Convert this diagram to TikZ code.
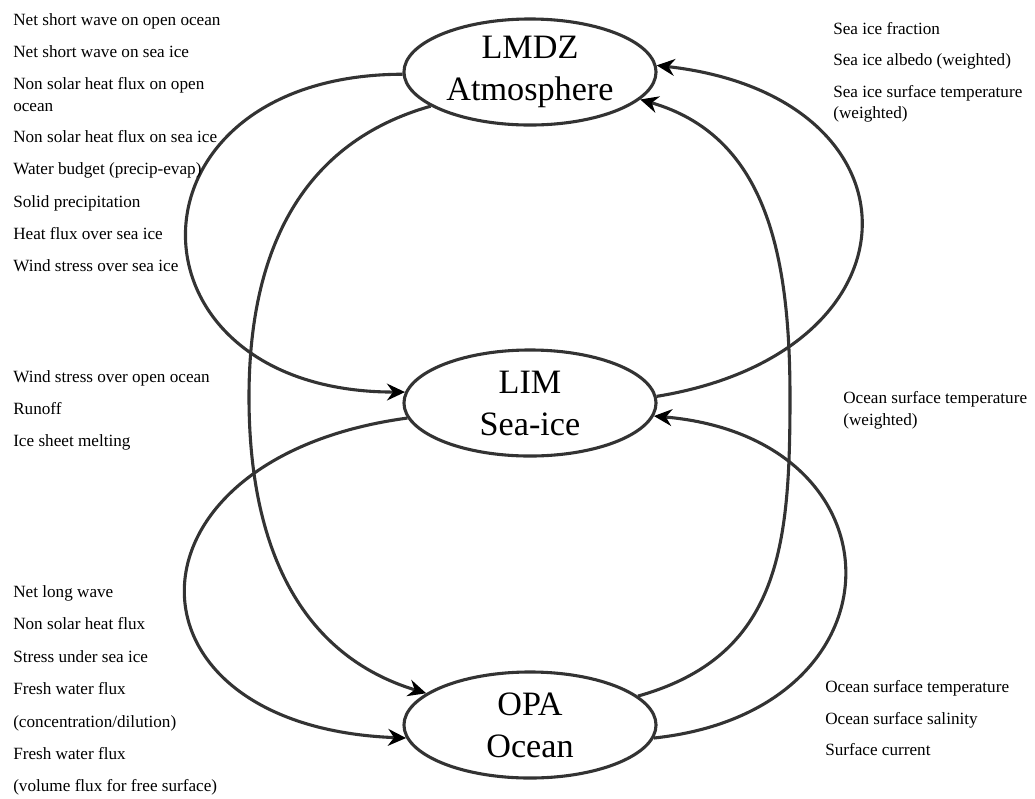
\documentclass[tikz,border=0pt]{standalone}
\usepackage{fontspec}
\setmainfont{Liberation Serif}
\usetikzlibrary{shapes.geometric, arrows.meta}

\begin{document}
\begin{tikzpicture}[x=0.025cm, y=-0.025cm,
        model/.style = {ellipse, draw=black!80, line width=2.2pt, minimum width=6.3cm, minimum height=2.65cm, inner sep=0pt, align=center, font=\fontsize{24.3}{29.9}\selectfont},
        link/.style = {draw=black!80, line width=2.2pt, arrows = {-Stealth[length=0.45cm, width=0.42cm, inset=0.15cm, black]}},
        flux/.style = {anchor=west, inner sep=0pt, text height=8.5pt, text depth=2.7pt, font=\fontsize{12.2}{15}\selectfont}]
        % Margini
        \useasboundingbox (0,0) rectangle (1035,798);
        % Parametri
        \pgfmathsetmacro{\xl}{13}
        % Ellissi dei modelli
        \node[model] (atm) at (530,72) {LMDZ\\Atmosphere};
        \node[model] (ice) at (530,403) {LIM\\Sea-ice};
        \node[model] (ocn) at (530,725) {OPA\\Ocean};
        % Frecce di accoppiamento
        \draw[link] (atm.181) .. controls (114,75) and (115,392) .. (ice.175);
        \draw[link] (atm.199) .. controls (304,142) and (249,247) .. (249,397) .. controls (249,547) and (300,655) .. (ocn.163);
        \draw[link] (ice.187) .. controls (112,458) and (112,727) .. (ocn.186);
        \draw[link] (ice.3) .. controls (929,352) and (929,96) .. (atm.3);
        \draw[link] (ocn.15) .. controls (780,656) and (790,547) .. (790,397) .. controls (790,247) and (763,135) .. (atm.346);
        \draw[link] (ocn.354) .. controls (908,711) and (908,438) .. (ice.354);
        % Flussi verso il ghiaccio
        \foreach \y/\t [count=\i] in {21/Net short wave on open ocean, 53/Net short wave on sea ice,
                85/Non solar heat flux on open, 107/ocean, 138/Non solar heat flux on sea ice,
                170/Water budget (precip-evap), 203/Solid precipitation, 235/Heat flux over sea ice,
                267/Wind stress over sea ice}
            \node[flux] (atmice\i) at (\xl,\y) {\t};
        % Flussi verso l'oceano
        \foreach \y/\t [count=\i] in {378/Wind stress over open ocean, 410/Runoff, 442/Ice sheet melting}
            \node[flux] (atmocn\i) at (\xl,\y) {\t};
        \foreach \y/\t [count=\i] in {593/Net long wave, 625/Non solar heat flux, 658/Stress under sea ice,
                690/Fresh water flux, 723/{(concentration/dilution)}, 755/Fresh water flux,
                787/{(volume flux for free surface)}}
            \node[flux] (iceocn\i) at (\xl,\y) {\t};
        % Flussi di ritorno
        \foreach \y/\t [count=\i] in {30/Sea ice fraction, 61/Sea ice albedo (weighted),
                93/Sea ice surface temperature, 114/(weighted)}
            \node[flux] (iceatm\i) at (833,\y) {\t};
        \foreach \y/\t [count=\i] in {399/Ocean surface temperature, 421/(weighted)}
            \node[flux] (ocnatm\i) at (843,\y) {\t};
        \foreach \y/\t [count=\i] in {688/Ocean surface temperature, 720/Ocean surface salinity, 751/Surface current}
            \node[flux] (ocnice\i) at (825,\y) {\t};
    \end{tikzpicture}
\end{document}
